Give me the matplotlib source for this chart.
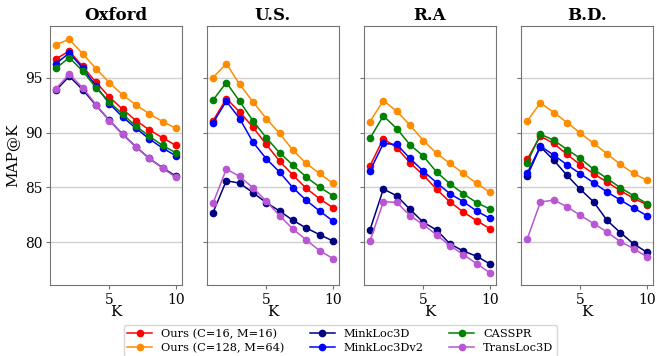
import matplotlib
matplotlib.use("Agg")
import matplotlib.pyplot as plt

plt.rcParams["font.family"] = ["DejaVu Serif"]

k = [1, 2, 3, 4, 5, 6, 7, 8, 9, 10]
datasets = ["Oxford", "U.S.", "R.A", "B.D."]

methods = ["Ours (C=16, M=16)", "Ours (C=128, M=64)", "MinkLoc3D",
           "MinkLoc3Dv2", "CASSPR", "TransLoc3D"]
colors = ["red", "darkorange", "navy", "blue", "green", "mediumorchid"]

# MAP@K per dataset, one list per method (same order as `methods`)
oxford = [
    [96.70, 97.42, 96.03, 94.58, 93.24, 92.12, 91.09, 90.24, 89.52, 88.82],
    [98.00, 98.48, 97.18, 95.82, 94.55, 93.42, 92.52, 91.70, 91.00, 90.39],
    [93.85, 95.12, 93.91, 92.48, 91.12, 89.85, 88.70, 87.64, 86.79, 86.03],
    [96.27, 97.24, 95.88, 94.24, 92.64, 91.42, 90.39, 89.42, 88.58, 87.88],
    [95.85, 96.82, 95.61, 94.09, 92.79, 91.67, 90.58, 89.67, 88.82, 88.15],
    [94.00, 95.30, 94.09, 92.55, 91.09, 89.82, 88.67, 87.67, 86.76, 85.91],
]
us = [
    [91.06, 93.09, 91.88, 90.48, 88.91, 87.39, 86.12, 84.91, 83.97, 83.15],
    [95.00, 96.27, 94.39, 92.79, 91.27, 89.91, 88.39, 87.18, 86.27, 85.36],
    [82.70, 85.61, 85.39, 84.52, 83.61, 82.85, 82.00, 81.30, 80.70, 80.12],
    [90.88, 92.85, 91.27, 89.12, 87.61, 86.39, 84.97, 83.82, 82.85, 81.94],
    [92.94, 94.55, 92.85, 91.06, 89.52, 88.15, 87.03, 85.94, 85.03, 84.24],
    [83.55, 86.67, 86.00, 84.97, 83.73, 82.42, 81.21, 80.21, 79.24, 78.52],
]
ra = [
    [86.97, 89.45, 88.61, 87.24, 86.12, 84.82, 83.67, 82.76, 81.97, 81.24],
    [91.00, 92.91, 91.94, 90.67, 89.27, 88.09, 87.18, 86.27, 85.36, 84.55],
    [81.15, 84.85, 84.24, 83.00, 81.82, 81.12, 79.85, 79.21, 78.73, 78.03],
    [86.52, 89.00, 88.91, 87.64, 86.48, 85.42, 84.42, 83.70, 82.85, 82.18],
    [89.48, 91.52, 90.36, 88.88, 87.85, 86.39, 85.33, 84.42, 83.61, 83.03],
    [80.12, 83.70, 83.64, 82.42, 81.61, 80.67, 79.70, 78.88, 78.06, 77.21],
]
bd = [
    [87.55, 89.67, 89.00, 88.00, 87.06, 86.24, 85.48, 84.70, 84.00, 83.42],
    [91.03, 92.70, 91.82, 90.91, 89.94, 89.00, 88.06, 87.09, 86.27, 85.64],
    [86.03, 88.70, 87.48, 86.09, 84.82, 83.67, 82.00, 80.88, 79.85, 79.09],
    [86.27, 88.76, 87.94, 87.06, 86.24, 85.42, 84.58, 83.85, 83.12, 82.42],
    [87.24, 89.85, 89.30, 88.45, 87.64, 86.64, 85.82, 84.97, 84.24, 83.52],
    [80.27, 83.67, 83.85, 83.24, 82.45, 81.70, 80.94, 80.06, 79.42, 78.67],
]
all_data = [oxford, us, ra, bd]

fig, axes = plt.subplots(1, 4, figsize=(6.57, 3.56), dpi=100, sharey=True)
fig.subplots_adjust(left=0.076, right=0.994, top=0.927, bottom=0.199, wspace=0.19)

for ax, name, data in zip(axes, datasets, all_data):
    for m, c, vals in zip(methods, colors, data):
        ax.plot(k, vals, color=c, marker="o", markersize=4.5, linewidth=1.1, label=m)
    ax.set_title(name, fontsize=12, fontweight="bold", pad=4)
    ax.set_xlabel("K", fontsize=11, labelpad=-1)
    ax.set_xticks([5, 10])
    ax.set_yticks([80, 85, 90, 95])
    ax.set_ylim(76.1, 99.7)
    ax.grid(axis="y", color="0.82", linewidth=1)
    ax.set_axisbelow(True)
    ax.tick_params(labelsize=10, length=3, color="0.45", pad=2.5)
    for sp in ax.spines.values():
        sp.set_color("0.45")

axes[0].set_ylabel("MAP@K", fontsize=11)

handles, labels = axes[0].get_legend_handles_labels()
fig.legend(handles, labels, loc="lower center", ncol=3, fontsize=8.2,
           bbox_to_anchor=(0.518, -0.005), frameon=True, borderaxespad=0.1,
           handlelength=2.2, columnspacing=2.2, labelspacing=0.35, borderpad=0.3)

plt.savefig("out.png", dpi=100)
